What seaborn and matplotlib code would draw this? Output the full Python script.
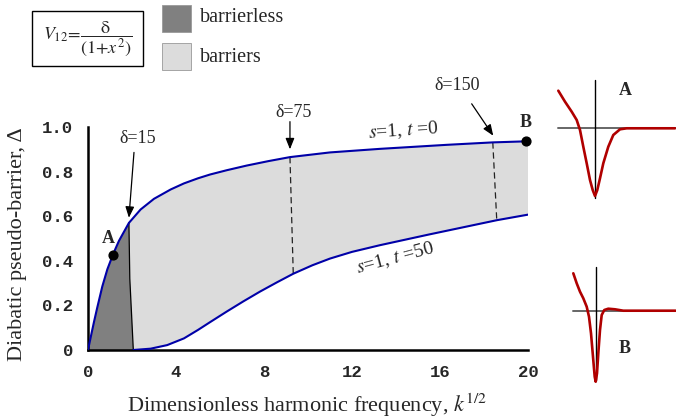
import numpy as np
import pandas as pd
import matplotlib
matplotlib.use("Agg")
import matplotlib.pyplot as plt
from matplotlib.patches import Rectangle
import seaborn as sns

# ---------------- data ----------------
upper_x = [0, 0.15, 0.27, 0.42, 0.65, 0.88, 1.15, 1.41, 1.86, 2.39, 3.0, 3.76, 4.36,
           5.0, 5.55, 6.3, 7.21, 8.2, 9.18, 11.0, 13.27, 16.3, 18.4, 20.0]
upper_y = [0, 0.07, 0.125, 0.19, 0.285, 0.362, 0.432, 0.49, 0.57, 0.63, 0.678, 0.72,
           0.747, 0.77, 0.787, 0.806, 0.827, 0.847, 0.865, 0.886, 0.902, 0.92, 0.931,
           0.936]

lower_x = [2.06, 2.85, 3.6, 4.36, 5.0, 5.55, 6.3, 7.06, 7.82, 8.58, 9.33, 10.2, 11.0,
           12.0, 13.27, 15.5, 18.58, 20.0]
lower_y = [0, 0.006, 0.022, 0.052, 0.09, 0.125, 0.172, 0.218, 0.262, 0.303, 0.342,
           0.38, 0.41, 0.44, 0.47, 0.518, 0.582, 0.607]

# boundary of the barrierless region (delta = 15)
bound_x = [1.86, 1.90, 2.06]
bound_y = [0.57, 0.32, 0.0]

# dashed iso-delta lines
d75_x = [9.18, 9.33]
d75_y = [0.865, 0.342]
d150_x = [18.4, 18.58]
d150_y = [0.931, 0.582]

point_A = (1.15, 0.428)
point_B = (19.9, 0.935)

x_ticks = [0, 4, 8, 12, 16, 20]
y_ticks = [0, 0.2, 0.4, 0.6, 0.8, 1.0]
y_ticklabels = ["0", "0.2", "0.4", "0.6", "0.8", "1.0"]

# inset potentials (r, V), arbitrary units
insetA_r = [-3.67, -3.0, -2.33, -1.83, -1.5, -1.17, -0.83, -0.5, -0.23, 0.0, 0.23,
            0.5, 0.83, 1.33, 1.83, 2.5, 3.17, 4.5, 8.0]
insetA_V = [3.76, 2.66, 1.66, 0.83, -0.17, -1.84, -3.5, -5.17, -6.17, -6.77, -6.17,
            -5.0, -3.5, -1.84, -0.67, -0.1, 0.0, 0.0, 0.0]
insetB_r = [-2.24, -1.9, -1.57, -1.24, -0.9, -0.67, -0.47, -0.27, -0.1, 0.0, 0.13,
            0.26, 0.43, 0.6, 0.86, 1.26, 1.93, 2.76, 3.93, 8.0]
insetB_V = [3.74, 2.74, 1.9, 1.24, 0.4, -0.6, -2.26, -4.6, -6.6, -7.1, -6.26,
            -4.26, -1.93, -0.43, 0.07, 0.2, 0.14, 0.0, 0.0, 0.0]

# ---------------- style ----------------
sns.set_theme(style="white")
plt.rcParams["font.family"] = ["Liberation Serif", "DejaVu Serif"]
plt.rcParams["mathtext.fontset"] = "stix"

fig = plt.figure(figsize=(6.76, 4.19), dpi=100)
ax = fig.add_axes([88 / 676, 1 - 350 / 419, 440 / 676, 223 / 419])

BLUE = "#0000a8"
DARK = "#808080"
LIGHT = "#dcdcdc"

# light region: between upper and lower curves
poly_x = upper_x + lower_x[::-1] + [0]
poly_y = upper_y + lower_y[::-1] + [0]
ax.fill(poly_x, poly_y, color=LIGHT, lw=0, zorder=1)

# dark region: under upper curve to delta=15 boundary
n15 = upper_x.index(1.86)
dark_x = upper_x[:n15 + 1] + bound_x[1:] + [0]
dark_y = upper_y[:n15 + 1] + bound_y[1:] + [0]
ax.fill(dark_x, dark_y, color=DARK, lw=0, zorder=2)
ax.plot(bound_x, bound_y, color="black", lw=0.9, zorder=3)

df_up = pd.DataFrame({"x": upper_x, "y": upper_y})
df_lo = pd.DataFrame({"x": lower_x, "y": lower_y})
sns.lineplot(data=df_up, x="x", y="y", ax=ax, color=BLUE, lw=1.5, sort=False, zorder=4)
sns.lineplot(data=df_lo, x="x", y="y", ax=ax, color=BLUE, lw=1.5, sort=False, zorder=4)

ax.plot(d75_x, d75_y, color="#222222", lw=0.9, ls=(0, (5, 3)), zorder=3)
ax.plot(d150_x, d150_y, color="#222222", lw=0.9, ls=(0, (5, 3)), zorder=3)

ax.scatter([point_A[0], point_B[0]], [point_A[1], point_B[1]], s=40, color="black",
           zorder=6, clip_on=False)
ax.text(0.91, 0.50, "A", fontsize=13, fontweight="bold", ha="center", va="center")
ax.text(19.9, 1.02, "B", fontsize=13, fontweight="bold", ha="center", va="center")

arrow = dict(arrowstyle="-|>,head_length=0.55,head_width=0.22", color="black", lw=0.9,
             shrinkA=0, shrinkB=0)
ax.annotate("", xy=(1.86, 0.593), xytext=(2.09, 0.886), arrowprops=arrow)
ax.text(2.24, 0.949, "δ=15", fontsize=13, ha="center", va="center")
ax.annotate("", xy=(9.18, 0.9), xytext=(9.18, 1.024), arrowprops=arrow,
            annotation_clip=False)
ax.text(9.33, 1.066, "δ=75", fontsize=13, ha="center", va="center", clip_on=False)
ax.annotate("", xy=(18.42, 0.961), xytext=(17.44, 1.104), arrowprops=arrow,
            annotation_clip=False)
ax.text(16.76, 1.186, "δ=150", fontsize=13, ha="center", va="center", clip_on=False)

ax.text(14.33, 0.983, "$s$=1, $t$ =0", fontsize=14, ha="center", va="center",
        rotation=4)
ax.text(13.95, 0.413, "$s$=1, $t$ =50", fontsize=14, ha="center", va="center",
        rotation=15)

ax.set_xlim(0, 20)
ax.set_ylim(0, 1.0)
ax.set_xticks(x_ticks)
ax.set_yticks(y_ticks)
ax.set_yticklabels(y_ticklabels)
for lab in ax.get_xticklabels() + ax.get_yticklabels():
    lab.set_fontfamily("Liberation Mono")
    lab.set_fontweight("bold")
    lab.set_fontsize(12.5)
ax.tick_params(direction="inout", length=9, width=1.6, color="black", pad=6)
for s in ["top", "right"]:
    ax.spines[s].set_visible(False)
for s in ["left", "bottom"]:
    ax.spines[s].set_linewidth(1.8)
    ax.spines[s].set_color("black")

ax.set_xlabel("Dimensionless harmonic frequency, $k^{1/2}$", fontsize=16)
ax.set_ylabel("Diabatic pseudo-barrier, Δ", fontsize=16)
ax.xaxis.label.set_va("baseline")
ax.yaxis.label.set_va("baseline")
ax.xaxis.set_label_coords(0.4989, (350 - 411.7) / 223)
ax.yaxis.set_label_coords((22 - 88) / 440, 0.475)

# ---------------- legend area ----------------
fig.text(88 / 676, 1 - 38.5 / 419, r"$V_{12}\!=\!\dfrac{\mathrm{δ}}{(1{+}x^2)}$",
         fontsize=13, ha="center", va="center")
fig.patches.append(Rectangle((32 / 676, 1 - 66 / 419), 111 / 676, 55 / 419,
                             transform=fig.transFigure, fill=False, ec="black", lw=1.0))
fig.patches.append(Rectangle((162 / 676, 1 - 32 / 419), 29 / 676, 27 / 419,
                             transform=fig.transFigure, fc=DARK, ec="#999999", lw=0.6))
fig.patches.append(Rectangle((162 / 676, 1 - 70 / 419), 29 / 676, 27 / 419,
                             transform=fig.transFigure, fc=LIGHT, ec="#999999", lw=0.6))
fig.text(200 / 676, 1 - 17 / 419, "barrierless", fontsize=14.5, ha="left", va="center")
fig.text(200 / 676, 1 - 57 / 419, "barriers", fontsize=14.5, ha="left", va="center")

# ---------------- insets ----------------
RED = "#b00000"
axA = fig.add_axes([555 / 676, 1 - 203.3 / 419, 121 / 676, 125 / 419])
axA.set_xlim(-4, 8.1)
axA.set_ylim(-7.5, 5)
axA.plot([-3.67, 8.1], [0, 0], color="#666666", lw=1.4)
axA.plot([0, 0], [-7.0, 4.83], color="black", lw=1.0)
sns.lineplot(x=insetA_r, y=insetA_V, ax=axA, color=RED, lw=1.9, sort=False)
axA.text(3.0, 3.83, "A", fontsize=13, fontweight="bold", ha="center", va="center")
axA.axis("off")

axB = fig.add_axes([555 / 676, 1 - 385.7 / 419, 121 / 676, 125 / 419])
axB.set_xlim(-4.07, 8.03)
axB.set_ylim(-7.5, 5)
axB.plot([-2.24, 8.03], [0, 0], color="#666666", lw=1.4)
axB.plot([0, 0], [-6.93, 4.4], color="black", lw=1.0)
sns.lineplot(x=insetB_r, y=insetB_V, ax=axB, color=RED, lw=1.9, sort=False)
axB.text(2.9, -3.76, "B", fontsize=13, fontweight="bold", ha="center", va="center")
axB.axis("off")

fig.savefig("out.png", dpi=100)
